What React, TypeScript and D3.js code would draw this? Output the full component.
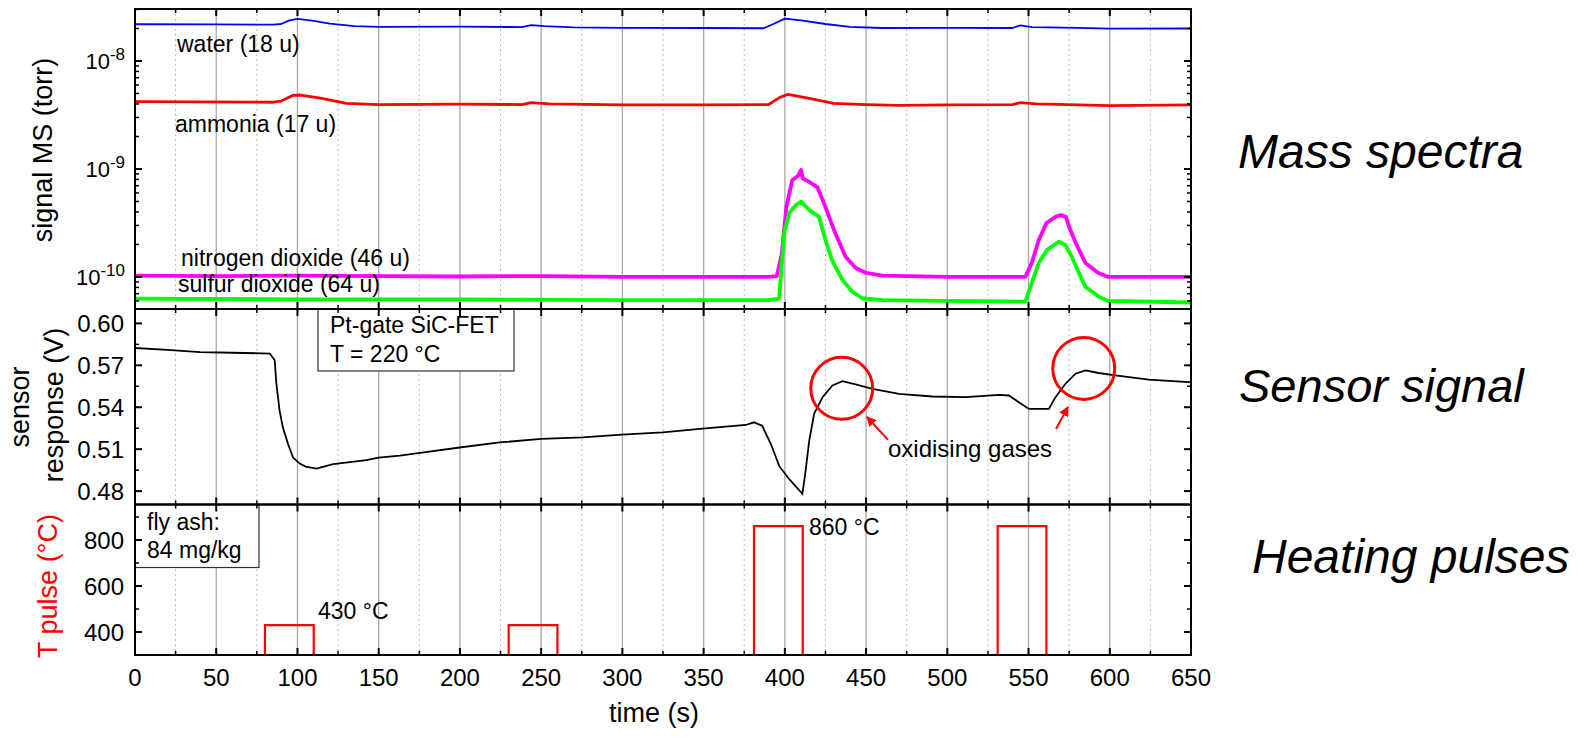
import * as d3 from "d3";

const FONT = "'Liberation Sans', Arial, Helvetica, sans-serif";

// axis ticks
const timeTicks = [0, 50, 100, 150, 200, 250, 300, 350, 400, 450, 500, 550, 600, 650];
const timeMinor = [25, 75, 125, 175, 225, 275, 325, 375, 425, 475, 525, 575, 625];
const msTicks = [1e-10, 1e-9, 1e-8];
const msTickExp = ["-10", "-9", "-8"];
const sensorTicks = [0.48, 0.51, 0.54, 0.57, 0.6];
const sensorMinor = [0.495, 0.525, 0.555, 0.585];
const pulseTicks = [400, 600, 800];
const pulseMinor = [500, 700, 900];

// mass spectra (time s, torr)
const water: [number, number][] = [
  [0, 2.19e-8], [50, 2.18e-8], [85, 2.17e-8], [90, 2.2e-8], [95, 2.38e-8], [100, 2.45e-8],
  [110, 2.35e-8], [120, 2.22e-8], [135, 2.1e-8], [150, 2.07e-8], [200, 2.08e-8], [238, 2.06e-8],
  [244, 2.15e-8], [252, 2.1e-8], [270, 2.05e-8], [300, 2.03e-8], [350, 2.02e-8], [387, 2.01e-8],
  [393, 2.2e-8], [400, 2.47e-8], [410, 2.38e-8], [425, 2.2e-8], [440, 2.07e-8], [460, 2.02e-8],
  [500, 2.03e-8], [540, 2.02e-8], [545, 2.14e-8], [552, 2.06e-8], [580, 2.03e-8], [600, 1.99e-8],
  [650, 2.0e-8],
];
const ammonia: [number, number][] = [
  [0, 4.2e-9], [85, 4.15e-9], [90, 4.25e-9], [97, 4.8e-9], [102, 4.84e-9], [115, 4.5e-9],
  [130, 4.05e-9], [150, 3.95e-9], [200, 3.98e-9], [238, 3.95e-9], [244, 4.12e-9], [255, 4.0e-9],
  [300, 3.92e-9], [350, 3.92e-9], [390, 3.95e-9], [397, 4.6e-9], [402, 4.92e-9], [415, 4.5e-9],
  [430, 4.05e-9], [450, 3.95e-9], [470, 3.88e-9], [500, 3.93e-9], [540, 3.95e-9], [545, 4.11e-9],
  [555, 4.0e-9], [600, 3.86e-9], [650, 3.92e-9],
];
const no2: [number, number][] = [
  [0, 1.03e-10], [50, 1.02e-10], [100, 1.03e-10], [150, 1.02e-10], [200, 1.01e-10], [250, 1.02e-10],
  [300, 1.0e-10], [350, 1.0e-10], [390, 1.0e-10], [395, 1.02e-10], [398, 1.6e-10], [401, 4.5e-10],
  [404.6, 7.9e-10], [408, 8.6e-10], [410, 9.8e-10], [411, 8.2e-10], [415, 7.6e-10], [420, 6.8e-10],
  [425, 4.45e-10], [431, 2.55e-10], [437.5, 1.53e-10], [443.6, 1.21e-10], [450, 1.09e-10],
  [460, 1.03e-10], [500, 1.0e-10], [548, 1.0e-10], [552, 1.35e-10], [556.3, 2.2e-10], [561, 3.16e-10],
  [566.6, 3.6e-10], [570, 3.75e-10], [573, 3.6e-10], [575, 2.9e-10], [579, 2.07e-10], [585, 1.35e-10],
  [593, 1.09e-10], [599, 1.0e-10], [650, 1.0e-10],
];
const so2: [number, number][] = [
  [0, 6.3e-11], [100, 6.2e-11], [200, 6.2e-11], [300, 6.1e-11], [390, 6.1e-11], [396.5, 6.3e-11],
  [399.6, 2.55e-10], [402.7, 3.9e-10], [406.8, 4.64e-10], [410, 4.98e-10], [415, 4.17e-10],
  [421, 3.6e-10], [425, 2.2e-10], [429, 1.44e-10], [435.4, 9.4e-11], [441.6, 7.3e-11],
  [447.7, 6.35e-11], [460, 6.1e-11], [500, 6.0e-11], [548, 5.9e-11], [552, 8.8e-11], [556.3, 1.35e-10],
  [561.4, 1.78e-10], [568.6, 2.12e-10], [572.7, 1.98e-10], [576.7, 1.53e-10], [581, 1.09e-10],
  [585, 8.1e-11], [593, 6.6e-11], [599, 6.0e-11], [650, 5.8e-11],
];

// sensor response (time s, V)
const sensor: [number, number][] = [
  [0, 0.5824], [20, 0.581], [40, 0.5795], [60, 0.579], [83, 0.5784], [86, 0.5736], [87, 0.557],
  [89, 0.5376], [91, 0.5256], [94.2, 0.5137], [97.3, 0.504], [101.4, 0.4997], [105, 0.4975],
  [111.7, 0.4961], [122, 0.4993], [142.4, 0.5022], [150, 0.504], [163, 0.5053], [180, 0.508],
  [199.8, 0.5112], [224.4, 0.5148], [250, 0.5173], [275.6, 0.5184], [299.8, 0.5204], [324.8, 0.522],
  [349.4, 0.5247], [376, 0.5273], [381, 0.5292], [386, 0.5268], [391.4, 0.5137], [396.5, 0.498],
  [402.7, 0.4885], [410.8, 0.4781], [412.5, 0.492], [415, 0.516], [418, 0.5353], [423.2, 0.5472],
  [429.3, 0.5556], [435.4, 0.5587], [443.6, 0.5563], [453.9, 0.5532], [470.3, 0.5496],
  [490.8, 0.5477], [511.3, 0.5472], [531.8, 0.5489], [537.9, 0.5484], [544, 0.5436], [550.2, 0.5388],
  [562.5, 0.5388], [566.6, 0.5472], [572.7, 0.5568], [578.9, 0.564], [585, 0.5664], [593.2, 0.5645],
  [603.5, 0.5628], [624, 0.5597], [648.6, 0.558], [650, 0.558],
];

// heating pulses
const pulseStart = [80, 230, 381, 531];
const pulseEnd = [110, 260, 411, 561];
const pulseTemp = [430, 430, 860, 860];

// circled regions (time s, V)
const circleT = [435, 584];
const circleV = [0.5535, 0.5678];

export default function App() {
  const x = d3.scaleLinear().domain([0, 650]).range([135, 1191]);
  const yMS = d3.scaleLog().domain([5.05e-11, 3.03e-8]).range([309, 9]);
  const ySen = d3.scaleLinear().domain([0.4704, 0.6103]).range([504.5, 309]);
  const yTp = d3.scaleLinear().domain([300, 952]).range([655, 505]);

  const msMinor = yMS.ticks().filter((v) => Math.abs(Math.log10(v) - Math.round(Math.log10(v))) > 1e-6);

  const msLine = d3.line<[number, number]>().x((d) => x(d[0])).y((d) => yMS(d[1]));
  const senLine = d3.line<[number, number]>().x((d) => x(d[0])).y((d) => ySen(d[1]));
  const pulseLine = d3.line<[number, number]>().x((d) => x(d[0])).y((d) => yTp(d[1]));

  const x0 = x(0), x1 = x(650);

  const frame = (top: number, bottom: number, yMajor: number[], yMin: number[], ys: (v: number) => number) => (
    <g>
      {timeTicks.map((t) => (
        <g key={"M" + t}>
          <line x1={x(t)} x2={x(t)} y1={top} y2={top + 7} stroke="#000" strokeWidth={2} />
          <line x1={x(t)} x2={x(t)} y1={bottom} y2={bottom - 7} stroke="#000" strokeWidth={2} />
        </g>
      ))}
      {timeMinor.map((t) => (
        <g key={"m" + t}>
          <line x1={x(t)} x2={x(t)} y1={top} y2={top + 4} stroke="#000" strokeWidth={1.5} />
          <line x1={x(t)} x2={x(t)} y1={bottom} y2={bottom - 4} stroke="#000" strokeWidth={1.5} />
        </g>
      ))}
      {yMajor.map((v) => (
        <g key={"yM" + v}>
          <line x1={x0} x2={x0 + 7} y1={ys(v)} y2={ys(v)} stroke="#000" strokeWidth={2} />
          <line x1={x1} x2={x1 - 7} y1={ys(v)} y2={ys(v)} stroke="#000" strokeWidth={2} />
        </g>
      ))}
      {yMin.map((v) => (
        <g key={"ym" + v}>
          <line x1={x0} x2={x0 + 4} y1={ys(v)} y2={ys(v)} stroke="#000" strokeWidth={1.5} />
          <line x1={x1} x2={x1 - 4} y1={ys(v)} y2={ys(v)} stroke="#000" strokeWidth={1.5} />
        </g>
      ))}
      <rect x={x0} y={top} width={x1 - x0} height={bottom - top} fill="none" stroke="#000" strokeWidth={2} />
    </g>
  );

  const arrows = [
    { from: [463.5, 0.5166], to: [450.6, 0.533] },
    { from: [566.9, 0.5244], to: [574.3, 0.5402] },
  ];

  return (
    <svg width={1581} height={738} style={{ position: "absolute", left: 0, top: 0, background: "#fff" }} fontFamily={FONT}>
      <defs>
        <clipPath id="cTop"><rect x={x0} y={9} width={x1 - x0} height={300} /></clipPath>
        <clipPath id="cMid"><rect x={x0} y={309} width={x1 - x0} height={195.5} /></clipPath>
        <marker id="ah" viewBox="0 0 10 10" refX={9} refY={5} markerWidth={5} markerHeight={5} orient="auto">
          <path d="M0,0 L10,5 L0,10 z" fill="#ff0000" />
        </marker>
      </defs>

      {/* vertical grid */}
      {timeTicks.slice(1, -1).map((t) => (
        <line key={"g" + t} x1={x(t)} x2={x(t)} y1={9} y2={655} stroke="#a8a8a8" strokeWidth={1.3} />
      ))}
      {timeMinor.map((t) => (
        <line key={"gm" + t} x1={x(t)} x2={x(t)} y1={9} y2={655} stroke="#bdbdbd" strokeWidth={1} strokeDasharray="2,3" />
      ))}

      {/* mass spectra */}
      <g clipPath="url(#cTop)" fill="none" strokeLinejoin="round">
        <path d={msLine(water) ?? ""} stroke="#0000ff" strokeWidth={1.8} />
        <path d={msLine(ammonia) ?? ""} stroke="#ff0000" strokeWidth={2.8} />
        <path d={msLine(no2) ?? ""} stroke="#ff00ff" strokeWidth={3.8} />
        <path d={msLine(so2) ?? ""} stroke="#00ff00" strokeWidth={3.8} />
      </g>
      <g fontSize={23} fill="#000">
        <text x={177} y={52}>water (18 u)</text>
        <text x={175} y={132}>ammonia (17 u)</text>
        <text x={181} y={266}>nitrogen dioxide (46 u)</text>
        <text x={178} y={292}>sulfur dioxide (64 u)</text>
      </g>

      {/* sensor */}
      <g clipPath="url(#cMid)">
        <path d={senLine(sensor) ?? ""} fill="none" stroke="#000" strokeWidth={1.8} />
      </g>
      <rect x={318} y={309} width={196} height={62} fill="#fff" stroke="#333" strokeWidth={1.2} />
      <text x={330} y={333} fontSize={23}>Pt-gate SiC-FET</text>
      <text x={330} y={362} fontSize={23}>T = 220 °C</text>
      {circleT.map((t, i) => (
        <circle key={"c" + i} cx={x(t)} cy={ySen(circleV[i])} r={31} fill="none" stroke="#ff0000" strokeWidth={3} />
      ))}
      {arrows.map((a, i) => (
        <line key={"a" + i} x1={x(a.from[0])} y1={ySen(a.from[1])} x2={x(a.to[0])} y2={ySen(a.to[1])}
          stroke="#ff0000" strokeWidth={2} markerEnd="url(#ah)" />
      ))}
      <text x={x(463.5)} y={ySen(0.5044)} fontSize={24}>oxidising gases</text>

      {/* heating pulses */}
      {pulseStart.map((s, i) => (
        <path key={"p" + i} d={pulseLine([[s, 300], [s, pulseTemp[i]], [pulseEnd[i], pulseTemp[i]], [pulseEnd[i], 300]]) ?? ""}
          fill="none" stroke="#ff0000" strokeWidth={2.2} />
      ))}
      <text x={318} y={619} fontSize={23}>430 °C</text>
      <text x={809} y={535} fontSize={23}>860 °C</text>
      <rect x={x0} y={504.5} width={124} height={63} fill="#fff" stroke="#333" strokeWidth={1.2} />
      <text x={147} y={530} fontSize={23}>fly ash:</text>
      <text x={147} y={558} fontSize={23}>84 mg/kg</text>

      {/* frames */}
      {frame(9, 309, msTicks, msMinor, (v) => yMS(v))}
      {frame(309, 504.5, sensorTicks, sensorMinor, (v) => ySen(v))}
      {frame(504.5, 655, pulseTicks, pulseMinor, (v) => yTp(v))}

      {/* tick labels */}
      <g fontSize={24} textAnchor="middle">
        {timeTicks.map((t) => (
          <text key={"xl" + t} x={x(t)} y={686}>{t}</text>
        ))}
      </g>
      <g textAnchor="end">
        {msTicks.map((v, i) => (
          <text key={"ml" + i} x={125} y={yMS(v) + 8} fontSize={22}>
            10<tspan dy={-9} fontSize={17}>{msTickExp[i]}</tspan>
          </text>
        ))}
        {sensorTicks.map((v) => (
          <text key={"sl" + v} x={124} y={ySen(v) + 9} fontSize={24}>{v.toFixed(2)}</text>
        ))}
        {pulseTicks.map((v) => (
          <text key={"pl" + v} x={124} y={yTp(v) + 9} fontSize={24}>{v}</text>
        ))}
      </g>

      {/* axis titles */}
      <g fontSize={27} textAnchor="middle">
        <text x={654} y={722}>time (s)</text>
        <text transform="translate(52,150) rotate(-90)">signal MS (torr)</text>
        <text transform="translate(29,407) rotate(-90)">sensor</text>
        <text transform="translate(63,405) rotate(-90)">response (V)</text>
        <text transform="translate(57,586) rotate(-90)" fill="#ff0000">T pulse (°C)</text>
      </g>

      {/* panel labels */}
      <g fontStyle="italic">
        <text x={1238} y={168} fontSize={48}>Mass spectra</text>
        <text x={1239} y={402} fontSize={47}>Sensor signal</text>
        <text x={1252} y={573} fontSize={48}>Heating pulses</text>
      </g>
    </svg>
  );
}
